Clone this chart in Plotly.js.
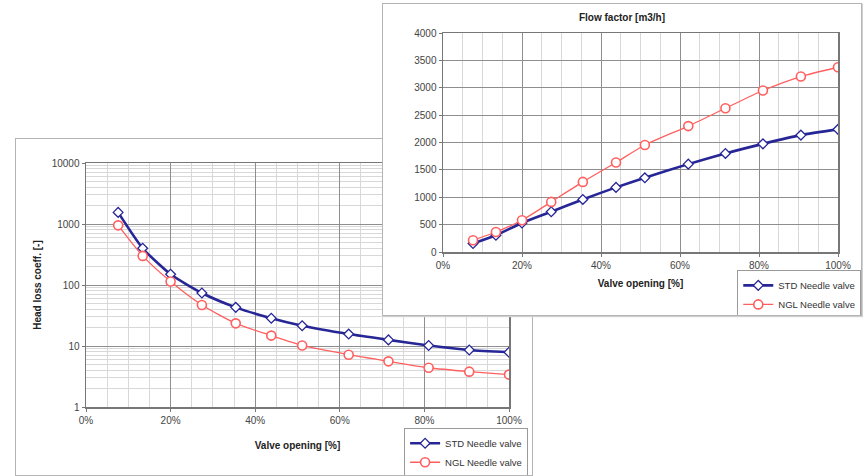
<!DOCTYPE html>
<html>
<head>
<meta charset="utf-8">
<script src="https://cdn.plot.ly/plotly-3.0.1.min.js"></script>
<style>
  html, body { margin: 0; padding: 0; background: #ffffff; width: 863px; height: 476px; overflow: hidden; }
  #headloss { position: absolute; left: 15px; top: 138px; width: 516px; height: 336px;
              border: 1px solid #b4b4b4; background: #fff; z-index: 1; }
  #flow { position: absolute; left: 382px; top: 3px; width: 478px; height: 311px;
          border: 1px solid #b4b4b4; background: #fff; z-index: 2; box-shadow: 1px 1px 1px #d0d0d0; }
</style>
</head>
<body>
<div id="headloss"></div>
<div id="flow"></div>
<script>
// ---- data ----
const valveOpening = [7.6, 13.4, 20, 27.4, 35.4, 43.8, 51.1, 62.1, 71.5, 81, 90.6, 100];
const seriesNames = ['STD Needle valve', 'NGL Needle valve'];
const headLossSTD = [1550, 400, 150, 74, 43, 28.5, 21.5, 15.7, 12.6, 10.2, 8.6, 7.9];
const headLossNGL = [950, 300, 114, 47, 23.5, 14.8, 10.2, 7.2, 5.6, 4.4, 3.8, 3.4];
const flowSTD = [155, 305, 530, 735, 960, 1180, 1355, 1605, 1800, 1975, 2135, 2240];
const flowNGL = [215, 365, 580, 915, 1280, 1635, 1955, 2300, 2625, 2950, 3205, 3375];
const headLossTicks = [1, 10, 100, 1000, 10000];
const headLossTickText = ['1', '10', '100', '1000', '10000'];

// ---- styles ----
const FONT = 'Liberation Sans, Arial, sans-serif';
const BLUE = '#262696';
const RED = '#ff5f5f';
const tickFont = { family: FONT, size: 10, color: '#444' };
const titleFont = { family: FONT, size: 10, color: '#222', weight: 'bold' };
const legendFont = { family: FONT, size: 9.5, color: '#333' };

function blueTrace(xs, ys) {
  return {
    x: xs, y: ys, name: seriesNames[0], type: 'scatter', mode: 'lines+markers',
    line: { color: BLUE, width: 2.6, shape: 'spline', smoothing: 0.6 },
    marker: { symbol: 'diamond', size: 7.5, color: '#ffffff', line: { color: BLUE, width: 1.3 } }
  };
}
function redTrace(xs, ys) {
  return {
    x: xs, y: ys, name: seriesNames[1], type: 'scatter', mode: 'lines+markers',
    line: { color: RED, width: 1.3, shape: 'spline', smoothing: 0.6 },
    marker: { symbol: 'circle', size: 9, color: '#ffffff', line: { color: RED, width: 1.6 } }
  };
}

function xAxis(standoff) {
  return {
    range: [0, 100], tick0: 0, dtick: 20, ticksuffix: '%', automargin: false,
    showgrid: true, gridcolor: '#8e8e8e', gridwidth: 1,
    minor: { dtick: 5, showgrid: true, gridcolor: '#d8d8d8', gridwidth: 1 },
    showline: true, mirror: true, linecolor: '#777', linewidth: 1.5,
    ticks: 'outside', ticklen: 3, tickcolor: '#777',
    zeroline: false, tickfont: tickFont, fixedrange: true,
    title: { text: 'Valve opening [%]', font: titleFont, standoff: standoff }
  };
}

const legendBase = {
  xanchor: 'left', yanchor: 'bottom', bgcolor: '#ffffff',
  bordercolor: '#9a9a9a', borderwidth: 1, font: legendFont
};

// ---- Head loss chart ----
const layout1 = {
  width: 516, height: 336,
  margin: { l: 70, r: 23, t: 24, b: 68, pad: 0, autoexpand: false },
  paper_bgcolor: '#ffffff', plot_bgcolor: '#ffffff',
  font: { family: FONT },
  showlegend: true,
  legend: Object.assign({ x: 0.752, y: -0.29 }, legendBase),
  xaxis: xAxis(17),
  yaxis: {
    type: 'log', range: [0, 4], automargin: false,
    tickvals: headLossTicks, ticktext: headLossTickText,
    showgrid: true, gridcolor: '#8e8e8e', gridwidth: 1,
    minor: { dtick: 'D1', showgrid: true, gridcolor: '#d8d8d8', gridwidth: 1 },
    showline: true, mirror: true, linecolor: '#777', linewidth: 1.5,
    ticks: 'outside', ticklen: 3, tickcolor: '#777',
    zeroline: false, tickfont: tickFont, fixedrange: true,
    title: { text: 'Head loss coeff. [-]', font: titleFont, standoff: 8 }
  }
};
Plotly.newPlot('headloss', [blueTrace(valveOpening, headLossSTD), redTrace(valveOpening, headLossNGL)],
  layout1, { staticPlot: true, displayModeBar: false });

// ---- Flow factor chart ----
const layout2 = {
  width: 478, height: 311,
  margin: { l: 60, r: 23, t: 29, b: 63, pad: 0, autoexpand: false },
  paper_bgcolor: '#ffffff', plot_bgcolor: '#ffffff',
  font: { family: FONT },
  title: { text: 'Flow factor [m3/h]', x: 0.5, xref: 'container', xanchor: 'center',
           y: 0.958, yref: 'container', yanchor: 'middle', font: titleFont },
  showlegend: true,
  legend: Object.assign({ x: 0.745, y: -0.31 }, legendBase),
  xaxis: xAxis(10),
  yaxis: {
    range: [0, 4000], tick0: 0, dtick: 500, tickformat: 'd', automargin: false,
    showgrid: true, gridcolor: '#8e8e8e', gridwidth: 1,
    showline: true, mirror: true, linecolor: '#777', linewidth: 1.5,
    ticks: 'outside', ticklen: 3, tickcolor: '#777',
    zeroline: false, tickfont: tickFont, fixedrange: true
  }
};
Plotly.newPlot('flow', [blueTrace(valveOpening, flowSTD), redTrace(valveOpening, flowNGL)],
  layout2, { staticPlot: true, displayModeBar: false });
</script>
</body>
</html>
